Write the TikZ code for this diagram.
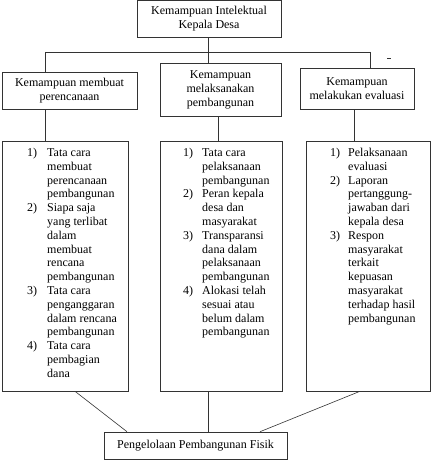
\documentclass[tikz,border=0pt]{standalone}
\usepackage{fontspec}
\setmainfont{Liberation Serif}
\begin{document}
\begin{tikzpicture}[x=1pt,y=-1pt,
  box/.style={draw=black!80, line width=0.6pt, inner sep=0pt, align=center,
    font=\fontsize{12}{14}\selectfont},
  listtext/.style={inner sep=0pt, anchor=north west, align=left,
    font=\fontsize{12}{13.8}\selectfont},
  conn/.style={draw=black!80, line width=0.6pt}]
\useasboundingbox (0,0) rectangle (435,468);
% boxes
\node[box, minimum width=144pt, minimum height=36.5pt] (top) at (209,18.75) {Kemampuan Intelektual\\Kepala Desa};
\node[box, minimum width=135pt, minimum height=37pt] (A) at (69.5,90.5) {Kemampuan membuat\\perencanaan};
\node[box, minimum width=121pt, minimum height=53pt] (B) at (220.5,89.5) {Kemampuan\\melaksanakan\\pembangunan};
\node[box, minimum width=114pt, minimum height=41pt] (C) at (357,88.5) {Kemampuan\\melakukan evaluasi};
\node[box, minimum width=126pt, minimum height=250pt] (L) at (65,266) {};
\node[box, minimum width=122pt, minimum height=250pt] (M) at (221,266) {};
\node[box, minimum width=124pt, minimum height=250pt] (R) at (368,266) {};
\node[box, minimum width=183pt, minimum height=27pt] (F) at (195.5,445.5) {Pengelolaan Pembangunan Fisik};
% list texts
\node[listtext] (Lt) at (27,148) {%
\makebox[20pt][l]{1)}Tata cara\\
\hspace*{20pt}membuat\\
\hspace*{20pt}perencanaan\\
\hspace*{20pt}pembangunan\\
\makebox[20pt][l]{2)}Siapa saja\\
\hspace*{20pt}yang terlibat\\
\hspace*{20pt}dalam\\
\hspace*{20pt}membuat\\
\hspace*{20pt}rencana\\
\hspace*{20pt}pembangunan\\
\makebox[20pt][l]{3)}Tata cara\\
\hspace*{20pt}penganggaran\\
\hspace*{20pt}dalam rencana\\
\hspace*{20pt}pembangunan\\
\makebox[20pt][l]{4)}Tata cara\\
\hspace*{20pt}pembagian\\
\hspace*{20pt}dana};
\node[listtext] (Mt) at (183,148) {%
\makebox[19pt][l]{1)}Tata cara\\
\hspace*{19pt}pelaksanaan\\
\hspace*{19pt}pembangunan\\
\makebox[19pt][l]{2)}Peran kepala\\
\hspace*{19pt}desa dan\\
\hspace*{19pt}masyarakat\\
\makebox[19pt][l]{3)}Transparansi\\
\hspace*{19pt}dana dalam\\
\hspace*{19pt}pelaksanaan\\
\hspace*{19pt}pembangunan\\
\makebox[19pt][l]{4)}Alokasi telah\\
\hspace*{19pt}sesuai atau\\
\hspace*{19pt}belum dalam\\
\hspace*{19pt}pembangunan};
\node[listtext] (Rt) at (330,148) {%
\makebox[18pt][l]{1)}Pelaksanaan\\
\hspace*{18pt}evaluasi\\
\makebox[18pt][l]{2)}Laporan\\
\hspace*{18pt}pertanggung-\\
\hspace*{18pt}jawaban dari\\
\hspace*{18pt}kepala desa\\
\makebox[18pt][l]{3)}Respon\\
\hspace*{18pt}masyarakat\\
\hspace*{18pt}terkait\\
\hspace*{18pt}kepuasan\\
\hspace*{18pt}masyarakat\\
\hspace*{18pt}terhadap hasil\\
\hspace*{18pt}pembangunan};
% connectors
\coordinate (hl) at (45,52);
\coordinate (hm) at (208,52);
\coordinate (hr) at (370,52);
\draw[conn] (hl) -- (hr);
\draw[conn] (top.south -| hm) -- (hm);
\draw[conn] (hl) -- (hl |- A.north);
\draw[conn] (hm) -- (hm |- B.north);
\draw[conn] (hr) -- (hr |- C.north);
\coordinate (al) at (45,0);
\coordinate (bm) at (218.5,0);
\coordinate (cr) at (354,0);
\draw[conn] (al |- A.south) -- (al |- L.north);
\draw[conn] (bm |- B.south) -- (bm |- M.north);
\draw[conn] (cr |- C.south) -- (cr |- R.north);
\coordinate (lb) at (75,0);
\coordinate (fl) at (127,0);
\coordinate (mb) at (208,0);
\coordinate (rb) at (360,0);
\coordinate (fr) at (260,0);
\draw[conn] (lb |- L.south) -- (fl |- F.north);
\draw[conn] (mb |- M.south) -- (mb |- F.north);
\draw[conn] (rb |- R.south) -- (fr |- F.north);
% stray mark
\coordinate (d1) at (387,58);
\coordinate (d2) at (391,58);
\draw[conn] (d1) -- (d2);
\end{tikzpicture}
\end{document}
